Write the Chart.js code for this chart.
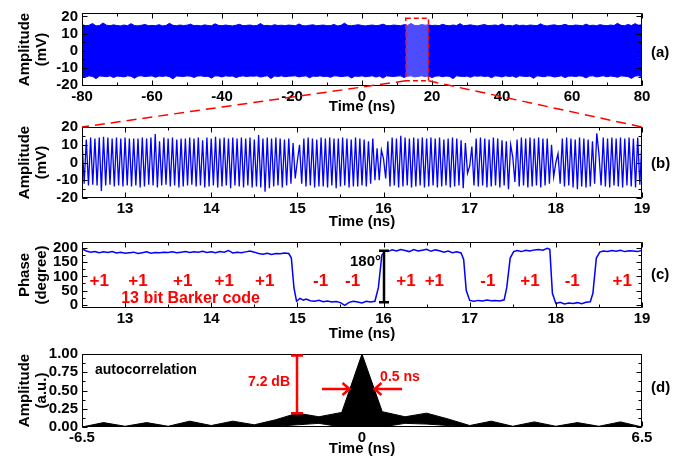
<!DOCTYPE html>
<html><head><meta charset="utf-8">
<script src="https://cdn.jsdelivr.net/npm/chart.js@4.4.1/dist/chart.umd.min.js"></script>
<style>
html,body{margin:0;padding:0;background:#fff;}
body{width:677px;height:460px;position:relative;overflow:hidden;}
canvas{position:absolute;left:0;}
.pl{position:absolute;left:651px;font:bold 15px "Liberation Sans",Arial,sans-serif;color:#000;line-height:15px;white-space:nowrap;}
</style></head><body>
<canvas id="ca" width="677" height="114" style="top:0px"></canvas>
<canvas id="cb" width="677" height="115" style="top:114px"></canvas>
<canvas id="cc" width="677" height="112" style="top:229px"></canvas>
<canvas id="cd" width="677" height="115" style="top:341px"></canvas>
<canvas id="ov" width="677" height="460" style="top:0px;pointer-events:none"></canvas>
<div class="pl" style="top:44px">(a)</div>
<div class="pl" style="top:155px">(b)</div>
<div class="pl" style="top:266px">(c)</div>
<div class="pl" style="top:379px">(d)</div>
<script>
// ---------------- DATA ----------------
// (a) full record, envelope of the dense waveform, 1 ns sampling from -80 to 80 ns
const aStart = -80, aStep = 1;
const aUpper = [
15.2,14.6,14.8,15.9,14.5,14.7,16.2,14.9,14.6,15.1,
14.7,14.5,15.0,14.6,15.8,14.7,14.5,14.9,15.3,14.6,
14.8,14.6,15.2,14.5,14.7,16.0,14.8,14.6,15.0,14.7,
14.9,15.5,14.6,14.8,14.5,15.1,14.7,14.6,15.7,14.8,
14.6,15.0,14.7,14.5,14.9,15.4,14.6,14.8,15.0,14.6,
14.7,15.9,14.6,14.8,14.5,15.2,14.7,14.9,14.6,15.0,
14.8,14.6,15.6,14.7,14.5,14.9,15.1,14.6,14.8,15.0,
14.6,14.7,15.3,14.5,14.8,16.1,14.7,14.6,14.9,15.2,
14.7,14.5,14.8,15.0,14.6,14.9,15.5,14.7,14.6,15.0,
14.8,14.6,15.2,14.7,15.9,14.8,14.6,15.3,14.9,15.1,
14.7,14.9,14.6,15.4,14.8,14.6,15.0,14.7,15.8,14.6,
14.8,15.1,14.7,14.5,14.9,15.3,14.6,14.8,15.0,14.7,
15.6,14.6,14.8,14.5,15.2,14.7,14.9,14.6,15.0,14.8,
14.6,15.7,14.7,14.5,14.9,15.1,14.6,14.8,15.4,14.7,
14.6,15.0,14.8,14.6,15.5,14.7,14.9,14.6,15.2,14.8,
14.6,15.0,14.7,16.0,14.8,14.6,15.3,14.7,15.8,14.9,
15.1];
const aLower = [
-14.8,-15.3,-14.6,-14.9,-16.2,-14.7,-14.8,-15.1,-14.6,-15.6,
-14.7,-14.9,-15.2,-14.6,-14.8,-16.0,-14.7,-14.6,-15.0,-14.8,
-14.6,-15.4,-14.7,-14.9,-14.6,-15.1,-16.3,-14.7,-14.8,-15.0,
-14.6,-14.8,-15.5,-14.7,-14.6,-15.0,-14.8,-15.9,-14.6,-14.7,
-15.2,-14.6,-14.8,-14.7,-15.6,-14.9,-14.6,-15.0,-14.7,-14.8,
-14.6,-15.3,-14.8,-14.6,-16.1,-14.7,-14.9,-14.6,-15.1,-14.8,
-14.7,-14.6,-15.2,-14.8,-14.6,-15.7,-14.7,-14.9,-14.6,-15.0,
-14.8,-15.4,-14.6,-14.7,-15.0,-14.8,-14.6,-15.8,-14.7,-14.9,
-14.6,-15.1,-14.8,-14.6,-15.3,-14.7,-15.9,-14.6,-14.8,-15.0,
-14.7,-14.6,-15.5,-14.8,-14.6,-15.2,-14.9,-14.6,-15.0,-14.7,
-15.6,-14.8,-14.6,-15.1,-14.7,-14.9,-16.2,-14.6,-14.8,-15.0,
-14.7,-15.4,-14.6,-14.8,-14.6,-15.0,-14.7,-15.7,-14.6,-14.8,
-15.2,-14.6,-14.9,-14.7,-15.5,-14.6,-14.8,-15.0,-14.7,-16.0,
-14.6,-14.8,-15.1,-14.6,-14.7,-15.3,-14.9,-14.6,-15.6,-14.8,
-14.7,-15.0,-14.6,-14.8,-15.8,-14.7,-14.6,-15.2,-14.8,-14.6,
-15.1,-14.7,-14.9,-15.4,-14.6,-14.8,-15.0,-16.1,-14.7,-14.6,
-15.0];
const zoomWindow = [12.5, 19];      // ns, region shown in (b)-(c)
const zoomAmp = [-17.5, 19];        // mV, height of the dashed box in (a)

// (b) zoomed waveform: successive extrema, every 0.025 ns from 12.5 ns
const bStart = 12.5, bStep = 0.025;
const bWave = [
13.5,-12,13,-13,14,-12.5,13.5,-13,
14,-16,14.5,-13,14,-12.5,13.5,-13.5,14,-13,
13.5,-13.5,14,-13,13.5,-13.5,13.5,-13,13.5,-14,
14,-13.5,13.5,-12.5,14,-13,16,-14,12,-13,
14,-12.5,13.5,-13.5,14,-13,13,-14,13.5,-13.5,
13.5,-13,14,-12.5,13.5,-13.5,14,-13,12.5,-14,
14,-13.5,13.5,-13,14.5,-14,13.5,-13.5,14,-13,
13.5,-14.5,14,-13,13.5,-13.5,14,-14,13.5,-13,
14,-14,13,-13.5,15.5,-14,13.5,-16.5,14,-14.5,
13.5,-13.5,14,-13,13.5,-14,13,-13,13.5,-12,
11,-9,
1,
10,-12,13.5,-13.5,14,-13,13.5,-14,13,-13.5,
14,-13.5,13.5,-14,14,-13,13.5,-14.5,13.5,-13.5,
14,-13,13.5,-14,13,-13.5,14,-13.5,13.5,-13,
13,-13.5,12,-12,13.5,-10,8,-10,7,
2,
-9,12,-13.5,14,-13,13.5,-14,15,-13.5,14,
-13,13.5,-14,14,-13.5,13.5,-13,14,-14,13.5,
-13.5,14,-13,13.5,-14,14,-13.5,13,-13,13.5,
-14,14,-13.5,13.5,-13,12.5,-14.5,11,-6,
-2,
9,-13,13.5,-13.5,14,-13,13.5,-14,13,-13.5,
14,-13,13.5,-14,12.5,-13,12,-15,10,
3,
-11,13,-13.5,14,-13,13.5,-14,14,-13.5,13.5,
-13,14,-14,13.5,-13,13.5,-12,10,-8,
0,
5,-12,13.5,-13.5,14,-13,13.5,-14,13,-15,
14,-13.5,13.5,-14,13,-13.5,12,-12,16.5,
5,
-13,14,-13.5,13.5,-14,14,-13,13.5,-13.5,14,
-14,13.5,-13,14,-13.5,13.5,-14,14,-12.5,13];

// (c) recovered phase
const phaseT = [
12.5,12.55,12.6,12.65,12.7,12.75,12.8,12.85,12.9,12.95,
13.0,13.05,13.1,13.15,13.2,13.25,13.3,13.35,13.4,13.45,
13.5,13.55,13.6,13.65,13.7,13.75,13.8,13.85,13.9,13.95,
14.0,14.05,14.1,14.15,14.2,14.25,14.3,14.35,14.4,14.45,
14.5,14.55,14.6,14.65,14.7,14.75,14.8,14.85,14.9,14.93,
14.96,14.99,15.03,15.07,15.1,15.15,15.2,15.25,15.3,15.35,
15.4,15.45,15.5,15.55,15.6,15.65,15.7,15.75,15.8,15.85,
15.9,15.94,15.98,16.02,16.05,16.1,16.15,16.2,16.25,16.3,
16.35,16.4,16.45,16.5,16.55,16.6,16.65,16.7,16.75,16.8,
16.85,16.9,16.93,16.96,17.0,17.05,17.1,17.15,17.2,17.25,
17.3,17.35,17.4,17.43,17.47,17.51,17.55,17.6,17.65,17.7,
17.75,17.8,17.85,17.9,17.93,17.96,18.0,18.05,18.1,18.15,
18.2,18.25,18.3,18.35,18.4,18.43,18.47,18.51,18.55,18.6,
18.65,18.7,18.75,18.8,18.85,18.9,18.95,19.0];
const phaseDeg = [
198,190,186,188,184,187,185,188,183,186,
182,184,186,181,184,187,182,185,184,186,
185,187,184,186,188,185,187,186,189,185,
187,184,188,186,192,183,186,184,187,190,
186,181,179,182,178,181,180,183,181,165,
60,12,22,16,20,14,12,15,10,13,
9,11,7,-3,8,12,9,6,12,9,
12,60,175,190,188,194,190,195,192,188,
195,190,193,196,189,194,191,186,190,184,
187,183,160,50,15,12,15,13,16,14,
15,13,17,60,165,188,192,188,193,190,
194,195,193,200,196,40,4,8,2,6,
4,7,3,8,10,40,165,186,190,188,
192,189,193,188,191,190,188,193];
const barkerCode = [1,1,1,1,1,-1,-1,1,1,-1,1,-1,1];
const barkerLabelT = [12.70,13.15,13.67,14.15,14.62,15.27,15.64,16.26,16.59,17.21,17.70,18.19,18.77];

// (d) autocorrelation envelope
const dT     = [-6.5,-6,-5.5,-5,-4.5,-4,-3.5,-3,-2.5,-2,-1.5,-1,-0.47,0,0.47,1,1.5,2,2.5,3,3.5,4,4.5,5,5.5,6,6.5];
const dUpper = [0,0.06,0.01,0.06,0.01,0.08,0.02,0.08,0.03,0.10,0.19,0.14,0.20,1.0,0.21,0.14,0.19,0.11,0.02,0.08,0.01,0.07,0.01,0.06,0.01,0.07,0];
const dLower = [0,0,0,0,0,0,0,0,0,0.01,0.03,0.05,0,0,0,0.05,0.04,0.02,0,0,0,0,0,0,0,0,0];

// tick values
const aXTicks = [-80,-60,-40,-20,0,20,40,60,80];
const aYTicks = [-20,-10,0,10,20];
const bXTicks = [13,14,15,16,17,18,19];
const bYTicks = [-20,-10,0,10,20];
const cYTicks = [0,50,100,150,200];
const dXTicks = [-6.5,0,6.5];
const dYTicks = [0,0.25,0.5,0.75,1.0];

// ---------------- RENDERING ----------------
const FONT = '"Liberation Sans", Arial, Helvetica, sans-serif';
const BLUE = '#0000ff', RED = '#ff0000';

function steps(min, max, step) {
  const out = [];
  for (let k = Math.ceil(min / step - 1e-9); k * step <= max + 1e-9; k++) out.push(+(k * step).toFixed(6));
  return out;
}
function pts(xs, ys) { return ys.map((v, i) => ({x: xs[i], y: v})); }
function gridPts(start, step, ys) { return ys.map((v, i) => ({x: +(start + i * step).toFixed(4), y: v})); }

const framePlugin = {
  id: 'frame',
  afterDatasetsDraw(chart, args, o) {
    const {ctx, chartArea: a} = chart;
    const sx = chart.scales.x, sy = chart.scales.y;
    const L = Math.round(a.left) + 0.5, R = Math.round(a.right) - 0.5;
    const T = Math.round(a.top) + 0.5, B = Math.round(a.bottom) - 0.5;
    ctx.save();
    ctx.strokeStyle = '#000'; ctx.lineWidth = 1;
    ctx.beginPath();
    ctx.rect(L, T, R - L, B - T);
    const xm = (vals, len) => vals.forEach(v => {
      const p = Math.round(sx.getPixelForValue(v)) + 0.5;
      ctx.moveTo(p, B); ctx.lineTo(p, B - len);
      if (o.xTop) { ctx.moveTo(p, T); ctx.lineTo(p, T + len); }
    });
    const ym = (vals, len) => vals.forEach(v => {
      const p = Math.round(sy.getPixelForValue(v)) + 0.5;
      ctx.moveTo(L, p); ctx.lineTo(L + len, p);
      ctx.moveTo(R, p); ctx.lineTo(R - len, p);
    });
    xm(o.xMaj || [], 5); xm(o.xMin || [], 3);
    ym(o.yMaj || [], 5); ym(o.yMin || [], 3);
    ctx.stroke();
    ctx.restore();
  }
};

function axisX(min, max, ticks, h, fmt) {
  return {
    type: 'linear', min, max, position: 'bottom',
    grid: {display: false, drawTicks: false}, border: {display: false},
    ticks: {autoSkip: false, maxRotation: 0, padding: 2, color: '#000',
            font: {family: FONT, size: 15, weight: 'bold'}, callback: fmt || (v => String(v))},
    title: {display: true, text: 'Time (ns)', color: '#000', padding: 0,
            font: {family: FONT, size: 15, weight: 'bold', lineHeight: 1}},
    afterBuildTicks(s) { s.ticks = ticks.map(v => ({value: v})); },
    afterFit(s) { s.height = h; }
  };
}
function axisY(min, max, ticks, title, fmt) {
  return {
    type: 'linear', min, max,
    grid: {display: false, drawTicks: false}, border: {display: false},
    ticks: {autoSkip: false, padding: 4, color: '#000',
            font: {family: FONT, size: 15, weight: 'bold'}, callback: fmt || (v => String(v))},
    title: {display: true, text: title, color: '#000', padding: {top: 16, bottom: 0},
            font: {family: FONT, size: 15, weight: 'bold', lineHeight: 1.15}},
    afterBuildTicks(s) { s.ticks = ticks.map(v => ({value: v})); },
    afterFit(s) { s.width = 82; }
  };
}
function baseOpts(padTop, xAxis, yAxis, frame, extra) {
  return {
    responsive: false, animation: false, events: [],
    layout: {padding: {top: padTop, left: 0, right: 35, bottom: 0}},
    plugins: Object.assign({legend: {display: false}, tooltip: {enabled: false}, frame}, extra || {}),
    scales: {x: xAxis, y: yAxis}
  };
}
const lineDs = (data, color, w, fill) => ({data, borderColor: color, backgroundColor: color,
  borderWidth: w, pointRadius: 0, fill: fill === undefined ? false : fill, tension: 0});

// ---- (a)
const chartA = new Chart(document.getElementById('ca'), {
  type: 'line',
  data: {datasets: [
    lineDs(gridPts(aStart, aStep, aLower), BLUE, 1),
    lineDs(gridPts(aStart, aStep, aUpper), BLUE, 1, '-1')
  ]},
  options: baseOpts(13, axisX(-80, 80, aXTicks, 28), axisY(-20.5, 22, aYTicks, ['Amplitude', '(mV)']),
    {xTop: true, xMaj: steps(-80, 80, 20), xMin: steps(-80, 80, 10), yMaj: steps(-20, 20, 10), yMin: steps(-20, 20, 5)}),
  plugins: [framePlugin]
});

// ---- (b)
const chartB = new Chart(document.getElementById('cb'), {
  type: 'line',
  data: {datasets: [lineDs(gridPts(bStart, bStep, bWave), BLUE, 1.3)]},
  options: baseOpts(10, axisX(12.5, 19, bXTicks, 31), axisY(-20, 20, bYTicks, ['Amplitude', '(mV)']),
    {xTop: true, xMaj: steps(12.5, 19, 1), xMin: steps(12.5, 19, 0.5), yMaj: steps(-20, 20, 10), yMin: steps(-20, 20, 5)}),
  plugins: [framePlugin]
});

// ---- (c)
const annotC = {
  id: 'annotC',
  afterDatasetsDraw(chart) {
    const {ctx} = chart; const sx = chart.scales.x, sy = chart.scales.y;
    ctx.save();
    ctx.fillStyle = RED; ctx.textAlign = 'center'; ctx.textBaseline = 'middle';
    ctx.font = 'bold 17px ' + FONT;
    barkerCode.forEach((c, i) => ctx.fillText(c > 0 ? '+1' : '-1', sx.getPixelForValue(barkerLabelT[i]), sy.getPixelForValue(83)));
    ctx.font = 'bold 16px ' + FONT;
    ctx.fillText('13 bit Barker code', sx.getPixelForValue(13.76), sy.getPixelForValue(20));
    // 180 degree bar
    const bx = Math.round(sx.getPixelForValue(16.0)), y0 = sy.getPixelForValue(8.7), y1 = sy.getPixelForValue(191);
    ctx.strokeStyle = '#000'; ctx.lineWidth = 2.5;
    ctx.beginPath();
    ctx.moveTo(bx, y0); ctx.lineTo(bx, y1);
    ctx.moveTo(bx - 5, y0); ctx.lineTo(bx + 5, y0);
    ctx.moveTo(bx - 5, y1); ctx.lineTo(bx + 5, y1);
    ctx.stroke();
    ctx.fillStyle = '#000'; ctx.textAlign = 'right'; ctx.font = 'bold 15px ' + FONT;
    ctx.fillText('180°', bx - 3, sy.getPixelForValue(150));
    ctx.restore();
  }
};
const chartC = new Chart(document.getElementById('cc'), {
  type: 'line',
  data: {datasets: [lineDs(pts(phaseT, phaseDeg), BLUE, 1.5)]},
  options: baseOpts(7, axisX(12.5, 19, bXTicks, 33), axisY(-12, 222, cYTicks, ['Phase', '(degree)']),
    {xTop: true, xMaj: steps(12.5, 19, 1), xMin: steps(12.5, 19, 0.5), yMaj: steps(0, 200, 50), yMin: steps(-12, 222, 25)}),
  plugins: [framePlugin, annotC]
});

// ---- (d)
const annotD = {
  id: 'annotD',
  afterDatasetsDraw(chart) {
    const {ctx} = chart; const sx = chart.scales.x, sy = chart.scales.y;
    ctx.save();
    ctx.textBaseline = 'middle';
    ctx.fillStyle = '#000'; ctx.textAlign = 'left'; ctx.font = 'bold 14px ' + FONT;
    ctx.fillText('autocorrelation', sx.getPixelForValue(-6.2), sy.getPixelForValue(0.78));
    ctx.strokeStyle = RED; ctx.fillStyle = RED; ctx.lineWidth = 2.5;
    const bx = Math.round(sx.getPixelForValue(-1.5)), y0 = sy.getPixelForValue(0.19), y1 = sy.getPixelForValue(0.98);
    ctx.beginPath();
    ctx.moveTo(bx, y0); ctx.lineTo(bx, y1);
    ctx.moveTo(bx - 6, y0); ctx.lineTo(bx + 6, y0);
    ctx.moveTo(bx - 6, y1); ctx.lineTo(bx + 6, y1);
    // arrows marking the 0.5 ns width
    const ya = sy.getPixelForValue(0.52);
    [[-0.93, -0.29], [0.93, 0.29]].forEach(([t0, t1]) => {
      const x0 = sx.getPixelForValue(t0), x1 = sx.getPixelForValue(t1), d = Math.sign(x1 - x0);
      ctx.moveTo(x0, ya); ctx.lineTo(x1, ya);
      ctx.moveTo(x1 - d * 7, ya - 6); ctx.lineTo(x1, ya); ctx.lineTo(x1 - d * 7, ya + 6);
    });
    ctx.stroke();
    ctx.font = 'bold 14px ' + FONT; ctx.textAlign = 'right';
    ctx.fillText('7.2 dB', bx - 7, sy.getPixelForValue(0.61));
    ctx.textAlign = 'left';
    ctx.fillText('0.5 ns', sx.getPixelForValue(0.42), sy.getPixelForValue(0.68));
    ctx.restore();
  }
};
const chartD = new Chart(document.getElementById('cd'), {
  type: 'line',
  data: {datasets: [
    lineDs(pts(dT, dLower), '#000', 1),
    lineDs(pts(dT, dUpper), '#000', 1, '-1')
  ]},
  options: baseOpts(13, axisX(-6.5, 6.5, dXTicks, 29, v => String(v)), axisY(0, 1, dYTicks, ['Amplitude', '(a.u.)'], v => v.toFixed(2)),
    {xTop: false, xMaj: dXTicks, xMin: [], yMaj: steps(0, 1, 0.25), yMin: steps(0, 1, 0.125)}),
  plugins: [framePlugin, annotD]
});

// ---- zoom box in (a) and connecting dashed lines to (b)
(function overlay() {
  const ctx = document.getElementById('ov').getContext('2d');
  const topA = 0, topB = 114;
  const ax = chartA.scales.x, ay = chartA.scales.y;
  const x1 = ax.getPixelForValue(zoomWindow[0]), x2 = ax.getPixelForValue(zoomWindow[1]);
  const yT = ay.getPixelForValue(zoomAmp[1]) + topA, yB = ay.getPixelForValue(zoomAmp[0]) + topA;
  const bx1 = chartB.scales.x.getPixelForValue(zoomWindow[0]), bx2 = chartB.scales.x.getPixelForValue(zoomWindow[1]);
  const by = chartB.chartArea.top + topB;
  ctx.save();
  ctx.fillStyle = 'rgba(255,255,255,0.3)';
  ctx.fillRect(x1, yT, x2 - x1, yB - yT);
  ctx.strokeStyle = RED; ctx.lineWidth = 1.5;
  ctx.setLineDash([5, 3]);
  ctx.strokeRect(x1, yT, x2 - x1, yB - yT);
  ctx.setLineDash([10, 6]);
  ctx.beginPath();
  ctx.moveTo(x1, yB); ctx.lineTo(bx1, by);
  ctx.moveTo(x2, yB); ctx.lineTo(bx2, by);
  ctx.stroke();
  ctx.restore();
})();
</script>
</body></html>
